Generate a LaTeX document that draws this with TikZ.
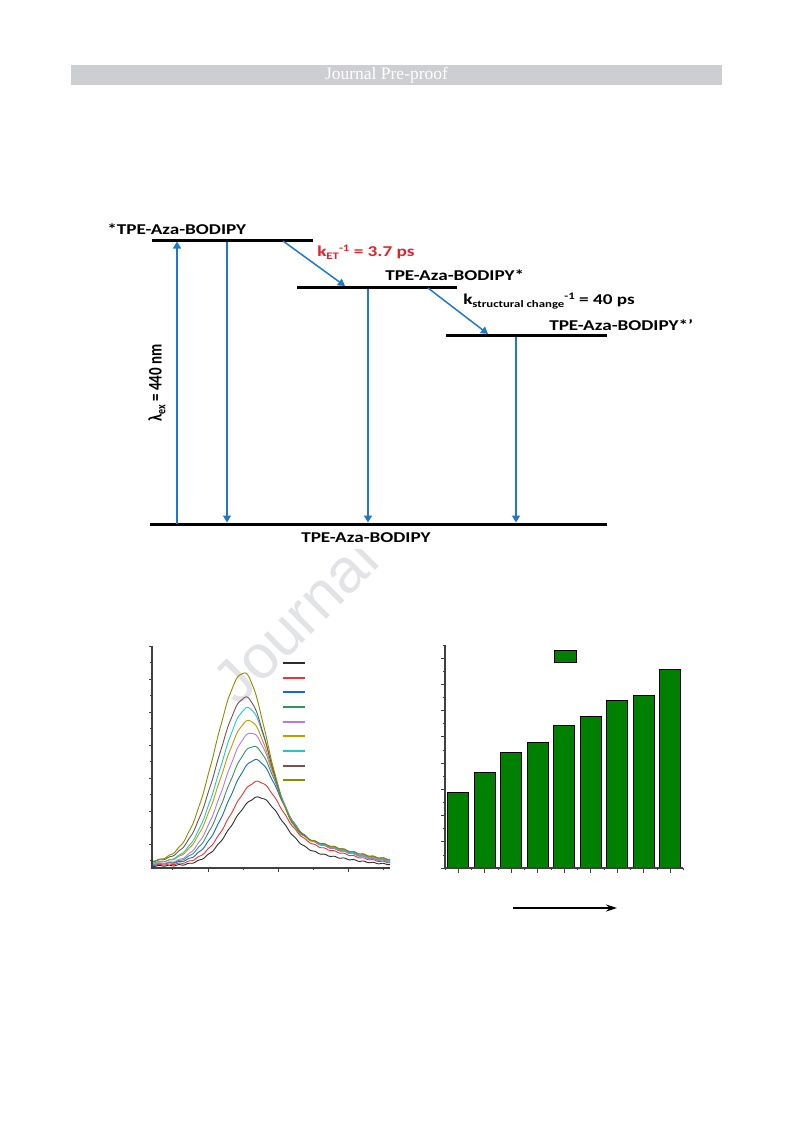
\documentclass[tikz,border=0pt]{standalone}
\usepackage{fontspec}
\setmainfont{Liberation Serif}
\newfontfamily\carlito{Carlito}
\newfontfamily\arialf{Liberation Sans}
\usetikzlibrary{arrows.meta}
\definecolor{arrblue}{RGB}{31,120,200}
\definecolor{kred}{RGB}{232,30,40}
\definecolor{hdrgray}{RGB}{205,206,210}
\definecolor{wmgray}{RGB}{226,227,230}
\definecolor{bargreen}{RGB}{0,128,0}
\definecolor{cA}{RGB}{45,45,45}
\definecolor{cB}{RGB}{240,50,50}
\definecolor{cC}{RGB}{20,100,230}
\definecolor{cD}{RGB}{50,150,90}
\definecolor{cE}{RGB}{180,120,235}
\definecolor{cF}{RGB}{200,150,0}
\definecolor{cG}{RGB}{30,200,200}
\definecolor{cH}{RGB}{125,80,80}
\definecolor{cI}{RGB}{140,140,0}
\newcommand\sbs[1]{\raisebox{-3pt}{\fontsize{10}{10}\selectfont #1}}
\newcommand\sps[1]{\raisebox{5pt}{\fontsize{10}{10}\selectfont #1}}
\newcommand\emc[6]{%
  \draw[#1,curve] plot[domain=152:390,samples=239]
   (\x,{#5 - #2*exp(-((\x-#3)/(\x<#3 ? #6 : 33))^2) - #4*exp(-((\x-300)/64)^2) + 0.5*sin(37*(\x-152))});}
\begin{document}
\begin{tikzpicture}[x=1pt,y=-1pt,
  lab/.style={font=\carlito\bfseries\fontsize{15}{15}\selectfont, inner sep=0pt, xscale=1.28, anchor=base west},
  level/.style={line width=3pt, black},
  tr/.style={arrblue, line width=1.5pt, -{Triangle[length=7pt,width=8pt]}},
  curve/.style={line width=0.9pt, line join=round},
  axis/.style={line width=1.2pt, black!75},
  tick/.style={line width=0.8pt, black!75},
  bar/.style={fill=bargreen, draw=black, line width=0.8pt},
  wm/.style={font=\arialf\fontsize{62}{62}\selectfont, text=wmgray, inner sep=0pt, anchor=base west, rotate=45}]
\useasboundingbox (0,0) rectangle (793,1123);
% header
\fill[hdrgray] (71,65) rectangle (722,85);
\node[font=\fontsize{17.5}{17.5}\selectfont, text=white, inner sep=0pt] (hdr) at (386.5,75) {Journal Pre-proof};
% watermark
\begin{scope}
\clip (0,549) rectangle (793,1123);
\node[wm] (wmark) at (238,708) {Journal};
\end{scope}
% ---------- energy diagram ----------
\coordinate (L1a) at (152,240); \coordinate (L1b) at (313,240);
\coordinate (L2a) at (297,287); \coordinate (L2b) at (457,287);
\coordinate (L3a) at (446,335); \coordinate (L3b) at (607,335);
\coordinate (G0a) at (150,524); \coordinate (G0b) at (607,524);
\draw[level] (L1a) -- (L1b);
\draw[level] (L2a) -- (L2b);
\draw[level] (L3a) -- (L3b);
\draw[level] (G0a) -- (G0b);
\node[lab] (n1) at (107,234) {*TPE-Aza-BODIPY};
\node[lab] (n2) at (385,280) {TPE-Aza-BODIPY*};
\node[lab] (n3) at (549,330) {TPE-Aza-BODIPY*’};
\node[lab] (n0) at (301,542) {TPE-Aza-BODIPY};
\node[lab, text=kred] (ket) at (317,256) {k\sbs{ET}\sps{-1} = 3.7 ps};
\node[lab] (ksc) at (463,304) {k\sbs{structural change}\sps{-1} = 40 ps};
\node[font=\carlito\bfseries\fontsize{15}{15}\selectfont, inner sep=0pt, rotate=90, yscale=1.28] (lam) at (157,383) {λ\sbs{ex} = 440 nm};
\coordinate (e1) at (177,524); \coordinate (e2) at (177,241.5);
\draw[tr] (e1) -- (e2);
\coordinate (d1a) at (227,241.5); \coordinate (d1b) at (227,522.5);
\draw[tr] (d1a) -- (d1b);
\coordinate (d2a) at (368,288.5); \coordinate (d2b) at (368,522.5);
\draw[tr] (d2a) -- (d2b);
\coordinate (d3a) at (516,336.5); \coordinate (d3b) at (516,522.5);
\draw[tr] (d3a) -- (d3b);
\coordinate (t1a) at (283,241); \coordinate (t1b) at (345,286);
\draw[tr] (t1a) -- (t1b);
\coordinate (t2a) at (428,288); \coordinate (t2b) at (488,334);
\draw[tr] (t2a) -- (t2b);
% ---------- emission spectra ----------
\emc{cA}{61}{257}{12}{866}{36}
\emc{cB}{72}{256}{18}{865}{37}
\emc{cC}{92}{254}{20}{864}{37}
\emc{cD}{106}{252}{20}{864}{38}
\emc{cE}{120}{250}{20}{864}{38}
\emc{cF}{132}{248}{20}{863}{39}
\emc{cG}{145}{247}{20}{863}{39}
\emc{cH}{155}{245}{20}{862}{40}
\emc{cI}{180}{243}{20}{862}{40}
\coordinate (ax0) at (152,868); \coordinate (axy) at (152,646); \coordinate (axx) at (390,868);
\draw[axis] (axy) -- (ax0) -- (axx);
\foreach \yy in {646,679,712,745,778,811,844} \draw[tick] (152,\yy) -- ++(-3,0);
\foreach \yy in {662.5,695.5,728.5,761.5,794.5,827.5,860.5} \draw[tick] (152,\yy) -- ++(-2,0);
\foreach \xx in {208,278,348} \draw[tick] (\xx,868) -- ++(0,4);
\foreach \xx in {172,243,313,383} \draw[tick] (\xx,868) -- ++(0,2);
\foreach \yy/\cc in {663/cA,678/cB,692/cC,707/cD,722/cE,736/cF,751/cG,766/cH,780/cI}
  \draw[\cc, line width=1.2pt] (283,\yy) -- (305,\yy);
% ---------- bar chart ----------
\foreach \l/\t in {447.3/792.3, 474/772.3, 500.3/752.7, 527/742.3, 553.3/725, 580.3/716.3, 606.3/700.3, 633.3/695.3, 659.3/669}
  \draw[bar] (\l,868) rectangle (\l+21.3,\t);
\draw[bar] (554.3,650) rectangle (576.3,662.3);
\coordinate (bx0) at (445,868); \coordinate (bxy) at (445,645); \coordinate (bxx) at (683,868);
\draw[axis] (bxy) -- (bx0) -- (bxx);
\foreach \i in {0,...,8} \draw[tick] (445,{868-26.25*\i}) -- ++(-4,0);
\foreach \i in {0,...,8} \draw[tick] (445,{854.9-26.25*\i}) -- ++(-2,0);
\foreach \i in {0,...,8} \draw[tick] ({458+26.5*\i},868) -- ++(0,5);
\foreach \i in {0,...,9} \draw[tick] ({445+26.5*\i},868) -- ++(0,2);
\coordinate (ar1) at (513,908); \coordinate (ar2) at (617,908);
\draw[line width=1.6pt, -{Stealth[length=11pt,width=7pt]}] (ar1) -- (ar2);
\end{tikzpicture}
\end{document}
